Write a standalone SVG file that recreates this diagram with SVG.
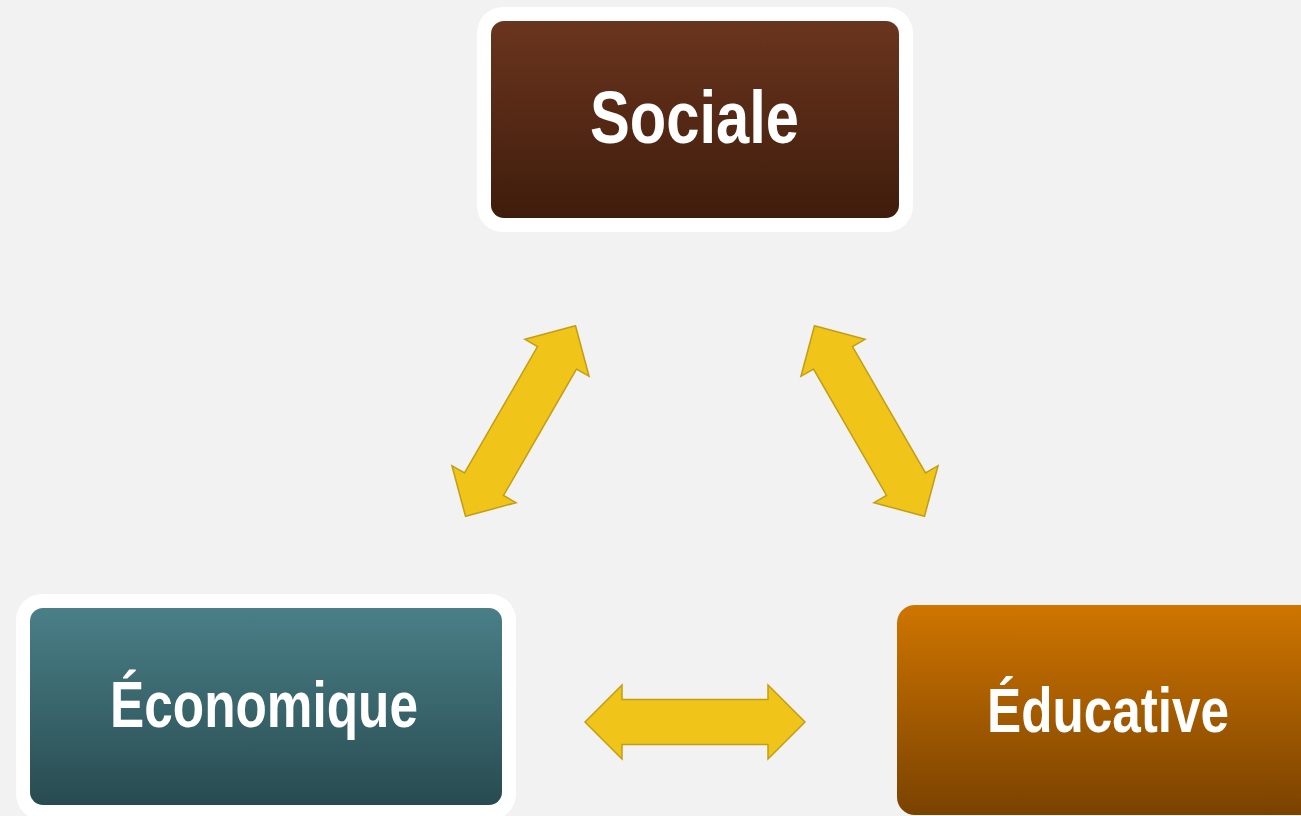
<svg xmlns="http://www.w3.org/2000/svg" xmlns:xlink="http://www.w3.org/1999/xlink" width="1301" height="816" viewBox="0 0 1301 816">
<defs>
<linearGradient id="gBrown" x1="0" y1="0" x2="0" y2="1">
<stop offset="0" stop-color="#6A351E"/>
<stop offset="1" stop-color="#3F1C0C"/>
</linearGradient>
<linearGradient id="gTeal" x1="0" y1="0" x2="0" y2="1">
<stop offset="0" stop-color="#4A7F87"/>
<stop offset="1" stop-color="#284B51"/>
</linearGradient>
<linearGradient id="gOrange" x1="0" y1="0" x2="0" y2="1">
<stop offset="0" stop-color="#CF7500"/>
<stop offset="1" stop-color="#7A4200"/>
</linearGradient>
<path id="dblArrow" d="M-110,0 L-73,-37 L-73,-22.5 L73,-22.5 L73,-37 L110,0 L73,37 L73,22.5 L-73,22.5 L-73,37 Z"/>
</defs>
<style>
.frame { fill: #FFFFFF; }
.label { font-family: "Liberation Sans", Arial, sans-serif; font-weight: bold; fill: #FFFFFF; text-anchor: middle; }
.arrow { fill: #F1C41A; stroke: #C29E12; stroke-width: 1.5; stroke-linejoin: miter; }
</style>
<rect x="0" y="0" width="1301" height="816" fill="#F2F2F2"/>
<g id="connectors">
<use xlink:href="#dblArrow" class="arrow" transform="translate(520.5,421) rotate(-60)"/>
<use xlink:href="#dblArrow" class="arrow" transform="translate(869.5,421) rotate(60)"/>
<use xlink:href="#dblArrow" class="arrow" transform="translate(695,722)"/>
</g>
<g id="node-sociale">
<rect class="frame" x="477" y="7" width="436" height="225" rx="26" ry="26"/>
<rect x="491" y="21" width="408" height="197" rx="13" ry="13" fill="url(#gBrown)"/>
<text class="label" x="694.5" y="143" font-size="74" textLength="209" lengthAdjust="spacingAndGlyphs">Sociale</text>
</g>
<g id="node-economique">
<rect class="frame" x="16" y="594" width="500" height="226" rx="26" ry="26"/>
<rect x="30" y="608" width="472" height="197" rx="13" ry="13" fill="url(#gTeal)"/>
<text class="label" x="264" y="727" font-size="64" textLength="308" lengthAdjust="spacingAndGlyphs">Économique</text>
</g>
<g id="node-educative">
<rect x="897" y="605" width="480" height="210" rx="18" ry="18" fill="url(#gOrange)"/>
<text class="label" x="1108" y="732" font-size="63" textLength="242" lengthAdjust="spacingAndGlyphs">Éducative</text>
</g>
</svg>
